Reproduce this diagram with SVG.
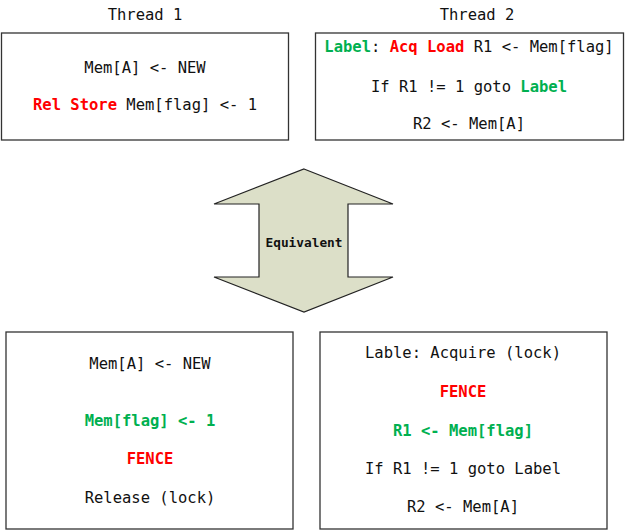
<svg xmlns="http://www.w3.org/2000/svg" width="625" height="531" viewBox="0 0 625 531">
<style>
text{font-family:"DejaVu Sans Mono","Liberation Mono",monospace;font-size:15.5px;fill:#111;text-anchor:middle}
.box{fill:#fff;stroke:#333;stroke-width:1.3}
.r{fill:#ff0000;font-weight:bold}
.g{fill:#00b050;font-weight:bold}
.b{font-weight:bold}
</style>
<rect width="625" height="531" fill="#fff"/>
<g id="title1"><text x="145" y="20">Thread 1</text></g>
<g id="title2"><text x="477" y="20">Thread 2</text></g>
<g id="thread1">
<rect class="box" x="1.5" y="33" width="287" height="107"/>
<text x="145" y="73">Mem[A] &lt;- NEW</text>
<text x="145" y="110"><tspan class="r">Rel Store</tspan> Mem[flag] &lt;- 1</text>
</g>
<g id="thread2">
<rect class="box" x="315.5" y="33" width="308" height="107"/>
<text x="469" y="52"><tspan class="g">Label</tspan>: <tspan class="r">Acq Load</tspan> R1 &lt;- Mem[flag]</text>
<text x="469" y="92">If R1 != 1 goto <tspan class="g">Label</tspan></text>
<text x="469" y="129">R2 &lt;- Mem[A]</text>
</g>
<g id="equivalent">
<polygon points="304,169 393,204 348,204 348,277 393,277 304,312 214,277 259,277 259,204 214,204" fill="#dcdfc8" stroke="#222" stroke-width="1.2"/>
<text x="304" y="247" class="b" style="font-size:12.8px">Equivalent</text>
</g>
<g id="lock1">
<rect class="box" x="6" y="332" width="287" height="197"/>
<text x="150" y="369">Mem[A] &lt;- NEW</text>
<text x="150" y="426" class="g">Mem[flag] &lt;- 1</text>
<text x="150" y="464" class="r">FENCE</text>
<text x="150" y="503">Release (lock)</text>
</g>
<g id="lock2">
<rect class="box" x="320" y="332" width="287" height="197"/>
<text x="463" y="358">Lable: Acquire (lock)</text>
<text x="463" y="397" class="r">FENCE</text>
<text x="463" y="436" class="g">R1 &lt;- Mem[flag]</text>
<text x="463" y="474">If R1 != 1 goto Label</text>
<text x="463" y="512">R2 &lt;- Mem[A]</text>
</g>
<g id="connectors"></g>
</svg>
